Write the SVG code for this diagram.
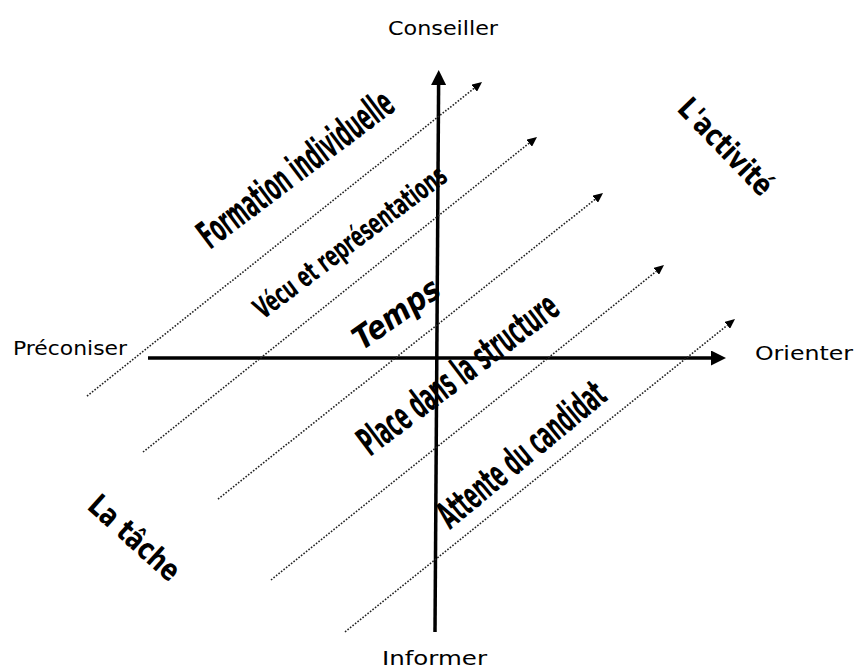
<svg xmlns="http://www.w3.org/2000/svg" width="859" height="672" viewBox="0 0 859 672">
<style>
.lbl{font-family:"DejaVu Sans","Liberation Sans",sans-serif;font-size:20px;fill:#000}
.big{font-family:"DejaVu Sans","Liberation Sans",sans-serif;font-weight:bold;fill:#000}
.axis{stroke:#000;stroke-width:3.5;fill:none}
.dot{stroke:#222;stroke-width:1.6;stroke-dasharray:1.6 1.6;fill:none}
</style>
<defs>
<marker id="ah" viewBox="0 0 15 15" refX="0" refY="7.5" markerWidth="15" markerHeight="15" markerUnits="userSpaceOnUse" orient="auto"><path d="M0,0 L15,7.5 L0,15 z" fill="#000"/></marker>
<marker id="dh" viewBox="0 0 10 9" refX="0" refY="4.5" markerWidth="10" markerHeight="9" markerUnits="userSpaceOnUse" orient="auto"><path d="M0,0 L10,4.5 L0,9 z" fill="#000"/></marker>
</defs>
<rect width="859" height="672" fill="#fff"/>
<g id="connectors">
<line class="axis" x1="148" y1="358" x2="711" y2="358" marker-end="url(#ah)"/>
<line class="axis" x1="435" y1="632" x2="438.6" y2="85" marker-end="url(#ah)"/>
<line class="dot" x1="87" y1="396" x2="474.2" y2="88.2" marker-end="url(#dh)"/>
<line class="dot" x1="143" y1="452" x2="529.2" y2="143.2" marker-end="url(#dh)"/>
<line class="dot" x1="218" y1="499" x2="595.2" y2="199.2" marker-end="url(#dh)"/>
<line class="dot" x1="271" y1="580" x2="656.2" y2="271.3" marker-end="url(#dh)"/>
<line class="dot" x1="345" y1="632" x2="727.2" y2="325.3" marker-end="url(#dh)"/>
</g>
<g id="conseiller"><text class="lbl" x="388" y="35" textLength="110" lengthAdjust="spacingAndGlyphs">Conseiller</text></g>
<g id="preconiser"><text class="lbl" x="13" y="355" font-size="19" textLength="114" lengthAdjust="spacingAndGlyphs">Préconiser</text></g>
<g id="orienter"><text class="lbl" x="755" y="360" textLength="98" lengthAdjust="spacingAndGlyphs">Orienter</text></g>
<g id="informer"><text class="lbl" x="382" y="665" textLength="105" lengthAdjust="spacingAndGlyphs">Informer</text></g>
<g id="formation"><text class="big" font-size="39" transform="translate(210,250) rotate(-37)" textLength="234" lengthAdjust="spacingAndGlyphs">Formation individuelle</text></g>
<g id="vecu"><text class="big" font-size="29" transform="translate(263,320) rotate(-37)" textLength="233" lengthAdjust="spacingAndGlyphs">Vécu et représentations</text></g>
<g id="temps"><text class="big" font-size="32" font-style="italic" transform="translate(362,351) rotate(-35)" textLength="99" lengthAdjust="spacingAndGlyphs">Temps</text></g>
<g id="place"><text class="big" font-size="39" transform="translate(370,457) rotate(-37)" textLength="240" lengthAdjust="spacingAndGlyphs">Place dans la structure</text></g>
<g id="attente"><text class="big" font-size="38" transform="translate(450,530) rotate(-39.5)" textLength="206" lengthAdjust="spacingAndGlyphs">Attente du candidat</text></g>
<g id="activite"><text class="big" font-size="30" transform="translate(676,110) rotate(46)" textLength="122" lengthAdjust="spacingAndGlyphs">L'activité</text></g>
<g id="tache"><text class="big" font-size="30" transform="translate(86,508) rotate(42)" textLength="112" lengthAdjust="spacingAndGlyphs">La tâche</text></g>
</svg>
